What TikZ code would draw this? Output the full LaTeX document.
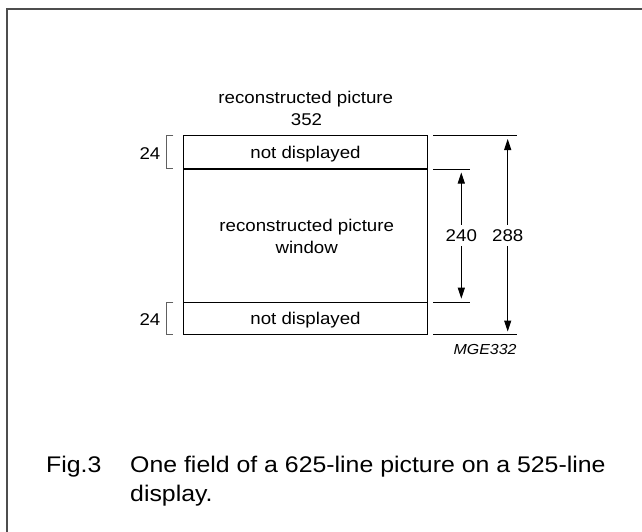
\documentclass[tikz,border=0pt]{standalone}
\usepackage{fontspec}
\setmainfont{Liberation Sans}[FakeStretch=1.1]
\usetikzlibrary{arrows.meta}
\definecolor{framegray}{HTML}{4D4D4D}
\definecolor{brackgray}{HTML}{606060}
\begin{document}
\begin{tikzpicture}[x=1pt,y=-1pt,
  frameline/.style={draw=framegray,line width=1.7pt},
  boxline/.style={draw=black,line width=1.4pt},
  extline/.style={draw=black,line width=1pt},
  brack/.style={draw=brackgray,line width=0.9pt},
  dimarrow/.style={draw=black,line width=1pt,{Triangle[length=11pt,width=7pt]}-{Triangle[length=11pt,width=7pt]}},
  txt/.style={font=\fontsize{17}{20}\selectfont,inner sep=0pt,anchor=base},
  dimlbl/.style={font=\fontsize{17}{20}\selectfont,fill=white,inner xsep=2pt,inner ysep=4.7pt},
  captxt/.style={font=\fontsize{22.6}{27}\selectfont,inner sep=0pt,anchor=base west},
  tag/.style={font=\fontsize{14.5}{17}\selectfont\itshape,inner sep=0pt,anchor=base east}]
\useasboundingbox (0,0) rectangle (642,532);
% frame
\coordinate (fbl) at (7.3,532);
\coordinate (ftl) at (7.3,8.7);
\coordinate (ftr) at (642,8.7);
\draw[frameline] (fbl) -- (ftl) -- (ftr);
% main box
\coordinate (btl) at (183.3,135.7);
\coordinate (bbr) at (427.7,334.3);
\coordinate (d1l) at (183.3,169);
\coordinate (d1r) at (427.7,169);
\coordinate (d2l) at (183.3,302.3);
\coordinate (d2r) at (427.7,302.3);
\draw[boxline] (btl) rectangle (bbr);
\draw[boxline] (d1l) -- (d1r);
\draw[boxline] (d2l) -- (d2r);
% texts in box
\node[txt] (t1) at (305.8,104) {reconstructed picture};
\node[txt] (t2) at (306.5,125.7) {352};
\node[txt] (nd1) at (305.5,158.3) {not displayed};
\node[txt] (w1) at (306.7,231.7) {reconstructed picture};
\node[txt] (w2) at (306.7,253.3) {window};
\node[txt] (nd2) at (305.5,324.3) {not displayed};
% left brackets
\coordinate (b1a) at (173.3,135.7);
\coordinate (b1b) at (166,135.7);
\coordinate (b1c) at (166,168.3);
\coordinate (b1d) at (173.3,168.3);
\draw[brack] (b1a) -- (b1b) -- (b1c) -- (b1d);
\coordinate (b2a) at (173.3,302.3);
\coordinate (b2b) at (166,302.3);
\coordinate (b2c) at (166,334.3);
\coordinate (b2d) at (173.3,334.3);
\draw[brack] (b2a) -- (b2b) -- (b2c) -- (b2d);
\node[txt] (n24a) at (150,159.3) {24};
\node[txt] (n24b) at (150,325) {24};
% extension lines
\coordinate (e1a) at (433,135.7);
\coordinate (e1b) at (516.7,135.7);
\coordinate (e2a) at (433,169);
\coordinate (e2b) at (470,169);
\coordinate (e3a) at (433,302.3);
\coordinate (e3b) at (470,302.3);
\coordinate (e4a) at (433,334.3);
\coordinate (e4b) at (516.7,334.3);
\draw[extline] (e1a) -- (e1b);
\draw[extline] (e2a) -- (e2b);
\draw[extline] (e3a) -- (e3b);
\draw[extline] (e4a) -- (e4b);
% dimension arrows
\coordinate (a240t) at (461.3,172.5);
\coordinate (a240b) at (461.3,298.7);
\coordinate (a288t) at (507.7,139);
\coordinate (a288b) at (507.7,331.5);
\draw[dimarrow] (a240t) -- (a240b);
\draw[dimarrow] (a288t) -- (a288b);
\node[dimlbl] (l240) at (461.3,235.5) {240};
\node[dimlbl] (l288) at (507.7,235.5) {288};
% tag
\node[tag] (mge) at (516.7,354) {MGE332};
% caption
\node[captxt] (fig) at (46,472.3) {Fig.3};
\node[captxt] (cap1) at (130,472.3) {One field of a 625-line picture on a 525-line};
\node[captxt] (cap2) at (130,501.7) {display.};
\end{tikzpicture}
\end{document}
